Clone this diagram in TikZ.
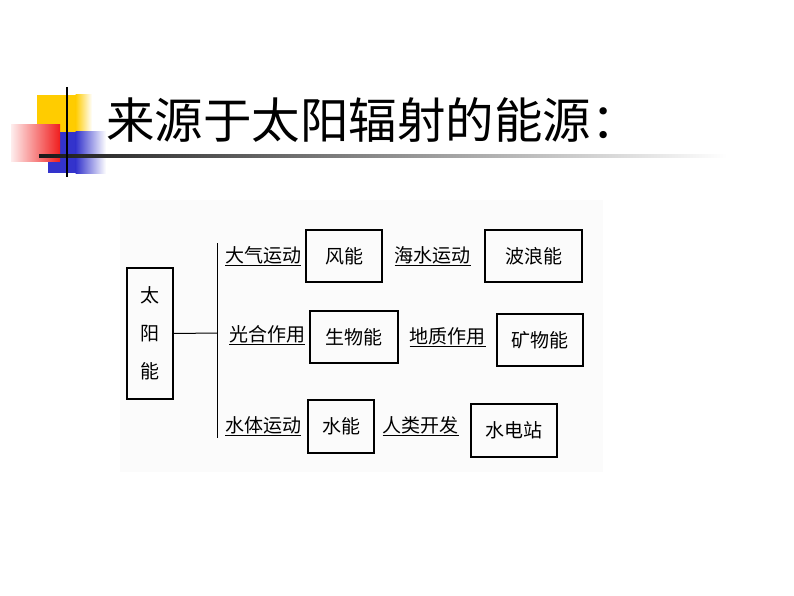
\documentclass[tikz,border=0pt]{standalone}
\usepackage{fontspec}
\newfontfamily\cjk{Noto Sans CJK SC}
\definecolor{decoyellow}{RGB}{255,204,0}
\definecolor{decoblue}{RGB}{51,51,204}
\definecolor{decored}{RGB}{240,30,30}
\begin{document}
\begin{tikzpicture}[x=1pt,y=-1pt,
  box/.style={draw, line width=1.2pt, rectangle, inner sep=0pt, font=\cjk\fontsize{19}{19}\selectfont},
  lbl/.style={inner sep=1pt, font=\cjk\fontsize{19}{19}\selectfont}]
\useasboundingbox (0,0) rectangle (794,596);
% title decoration
\fill[decoyellow] (37,95) rectangle (76,132);
\shade[left color=decoyellow, right color=white] (75.5,95) rectangle (92,132);
\fill[decoblue] (48,132) rectangle (76,173);
\shade[left color=decoblue, right color=white] (75.5,132) rectangle (106,173);
\shade[left color=decored!8, right color=decored] (11,125) rectangle (60,162);
\shade[left color=black!90, right color=white] (39,155) rectangle (727,157.5);
\path[draw,line width=2pt] (67,87) -- (67,177);
\node[anchor=west, inner sep=0pt, font=\cjk\fontsize{48.5}{48.5}\selectfont] (title) at (106,120) {来源于太阳辐射的能源：};
% diagram
\fill[black!1.5] (120,200) rectangle (603,472);
\node[box, minimum width=46, minimum height=131, align=center, font=\cjk\fontsize{19}{38}\selectfont] (sun) at (150,333.5) {太\\阳\\能};
\coordinate (vtop) at (217,243);
\coordinate (vmid) at (217,333);
\coordinate (vbot) at (217,438);
\path[draw,line width=1pt] (vtop) -- (vbot);
\path[draw,line width=1pt] (sun.east) -- (vmid);
\node[lbl] (air) at (263,256) {\underline{大气运动}};
\node[lbl] (photo) at (267,335) {\underline{光合作用}};
\node[lbl] (water) at (263,426) {\underline{水体运动}};
\node[box, minimum width=76, minimum height=52] (wind) at (344,256) {风能};
\node[box, minimum width=88, minimum height=52] (bio) at (354,337) {生物能};
\node[box, minimum width=66, minimum height=53] (hydro) at (341,426.5) {水能};
\node[lbl] (sea) at (432.5,256) {\underline{海水运动}};
\node[lbl] (geo) at (447.5,337) {\underline{地质作用}};
\node[lbl] (human) at (420.5,426) {\underline{人类开发}};
\node[box, minimum width=97, minimum height=52] (wave) at (533.5,256) {波浪能};
\node[box, minimum width=86, minimum height=52] (mineral) at (540,340) {矿物能};
\node[box, minimum width=86, minimum height=53] (station) at (514,430.5) {水电站};
\end{tikzpicture}
\end{document}
